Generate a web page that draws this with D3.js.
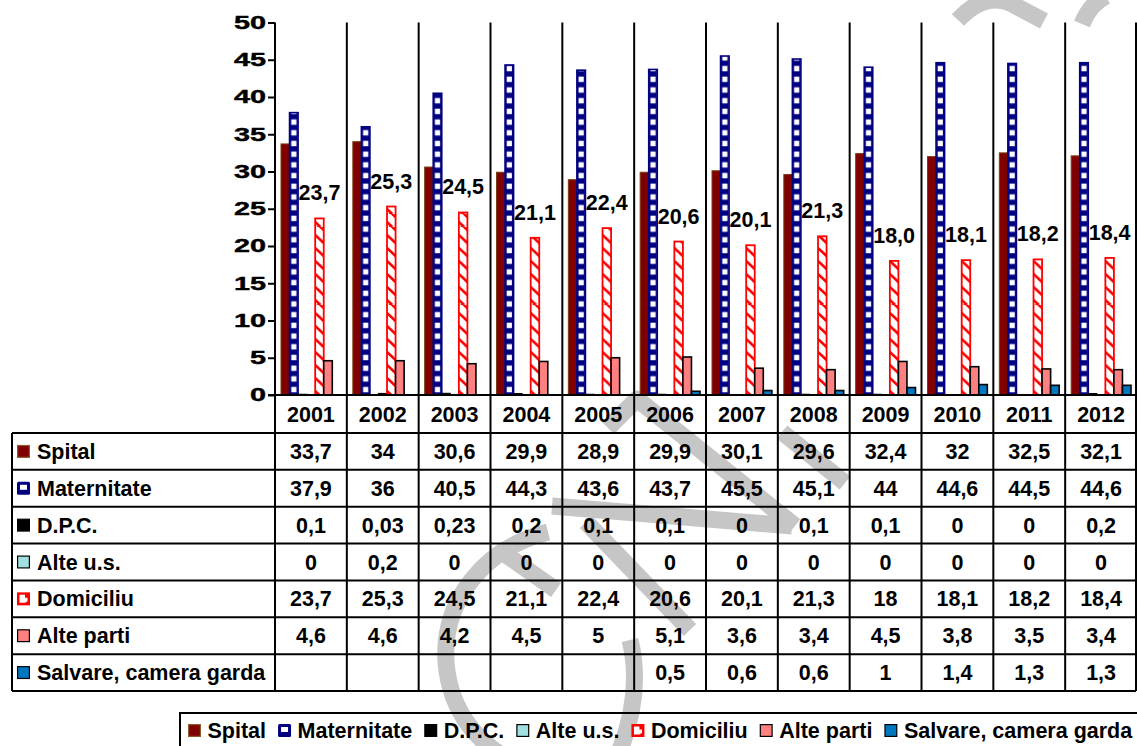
<!DOCTYPE html>
<html>
<head>
<meta charset="utf-8">
<script src="https://cdn.jsdelivr.net/npm/d3@7"></script>
<style>
  body { margin: 0; background: #fff; }
  svg { display: block; }
  text { font-family: Arial, "Liberation Sans", sans-serif; font-weight: bold; fill: #000; }
</style>
</head>
<body>
<svg id="chart" width="1137" height="746"></svg>
<script>
// ---- data ----
const years = ["2001","2002","2003","2004","2005","2006","2007","2008","2009","2010","2011","2012"];
const seriesNames = ["Spital","Maternitate","D.P.C.","Alte u.s.","Domiciliu","Alte parti","Salvare, camera garda"];
const spital      = [33.7, 34, 30.6, 29.9, 28.9, 29.9, 30.1, 29.6, 32.4, 32, 32.5, 32.1];
const maternitate = [37.9, 36, 40.5, 44.3, 43.6, 43.7, 45.5, 45.1, 44, 44.6, 44.5, 44.6];
const dpc         = [0.1, 0.03, 0.23, 0.2, 0.1, 0.1, 0, 0.1, 0.1, 0, 0, 0.2];
const alteUs      = [0, 0.2, 0, 0, 0, 0, 0, 0, 0, 0, 0, 0];
const domiciliu   = [23.7, 25.3, 24.5, 21.1, 22.4, 20.6, 20.1, 21.3, 18, 18.1, 18.2, 18.4];
const alteParti   = [4.6, 4.6, 4.2, 4.5, 5, 5.1, 3.6, 3.4, 4.5, 3.8, 3.5, 3.4];
const salvare     = [null, null, null, null, null, 0.5, 0.6, 0.6, 1, 1.4, 1.3, 1.3];
const yTicks      = [0, 5, 10, 15, 20, 25, 30, 35, 40, 45, 50];

const seriesValues = [spital, maternitate, dpc, alteUs, domiciliu, alteParti, salvare];

// ---- layout ----
const svg = d3.select("#chart");
const plot = { left: 275, right: 1137, top: 22.5, bottom: 395 };
const table = { left: 12, top: 433, bottom: 691, right: 1136 };
const rowH = (table.bottom - table.top) / seriesNames.length;
const FS = 21.5;

const x0 = d3.scaleBand().domain(years).range([plot.left, plot.right]);
const x1 = d3.scaleBand().domain(seriesNames).range([6, x0.bandwidth() - 6]);
const y = d3.scaleLinear().domain([0, 50]).range([plot.bottom, plot.top]);
const bw = x1.bandwidth();

const commaFmt = v => String(v).replace(".", ",");
const labelFmt = v => d3.format(".1f")(v).replace(".", ",");

// ---- fills ----
const defs = svg.append("defs");
const patMat = defs.append("pattern")
  .attr("id", "patMat").attr("patternUnits", "userSpaceOnUse")
  .attr("x", x0(years[0]) + x1("Maternitate")).attr("y", plot.bottom)
  .attr("width", x0.step()).attr("height", 10.7);
patMat.append("rect").attr("width", bw).attr("height", 10.7).attr("fill", "#000080");
patMat.append("rect").attr("x", (bw - 5.2) / 2).attr("y", 2.6).attr("width", 5.2).attr("height", 5.4).attr("fill", "#fff");

const patDom = defs.append("pattern")
  .attr("id", "patDom").attr("patternUnits", "userSpaceOnUse")
  .attr("x", x0(years[0]) + x1("Domiciliu")).attr("y", plot.bottom)
  .attr("width", x0.step()).attr("height", 13);
patDom.append("rect").attr("width", bw).attr("height", 13).attr("fill", "#fff");
patDom.append("path")
  .attr("d", `M-1,-5 L${bw + 1},5 M-1,8 L${bw + 1},18`)
  .attr("stroke", "#ff0000").attr("stroke-width", 2.6).attr("fill", "none");

const styles = {
  "Spital":                { fill: "#800000", stroke: "#7a3f10", sw: 1 },
  "Maternitate":           { fill: "url(#patMat)", stroke: "#000080", sw: 1.6 },
  "D.P.C.":                { fill: "#000000", stroke: "#000000", sw: 1 },
  "Alte u.s.":             { fill: "#a0e0e0", stroke: "#000000", sw: 1.2 },
  "Domiciliu":             { fill: "url(#patDom)", stroke: "#ff0000", sw: 1.8 },
  "Alte parti":            { fill: "#ff8080", stroke: "#000000", sw: 1.6 },
  "Salvare, camera garda": { fill: "#0077c0", stroke: "#000000", sw: 1.6 }
};

// ---- background mark ----
const wm = svg.append("g").attr("fill", "none").attr("stroke", "#c6c6c6")
  .attr("stroke-width", 17).attr("stroke-linejoin", "round");
wm.append("path").attr("d", "M608,428 L637,399 L795,526");
wm.append("path").attr("d", "M552,506 L792,526");
wm.append("path").attr("d", "M586,522 L690,630");
wm.append("path").attr("d", "M782,432 L845,483");
wm.append("path").attr("d", "M548,532 C485,548 442,600 446,662 C450,715 482,748 520,765");
wm.append("path").attr("d", "M502,552 L556,590");
wm.append("path").attr("d", "M630,640 C640,680 633,722 614,765");
wm.append("path").attr("d", "M958,20 Q984,-8 1010,3 L1044,21");
wm.append("path").attr("d", "M1082,24 Q1090,4 1106,-4");

// ---- bars ----
const barG = svg.append("g");
seriesNames.forEach((name, si) => {
  const st = styles[name];
  const vals = seriesValues[si];
  barG.append("g").selectAll("rect")
    .data(years.map((yr, i) => ({ yr, v: vals[i] })).filter(d => d.v != null && d.v > 0))
    .join("rect")
    .attr("x", d => x0(d.yr) + x1(name))
    .attr("y", d => y(d.v))
    .attr("width", bw)
    .attr("height", d => y(0) - y(d.v))
    .attr("fill", st.fill)
    .attr("stroke", st.stroke)
    .attr("stroke-width", st.sw);
});

// value labels over the Domiciliu bars
svg.append("g").selectAll("text")
  .data(years.map((yr, i) => ({ yr, v: domiciliu[i] })))
  .join("text")
  .attr("x", d => x0(d.yr) + x1("Domiciliu") + bw / 2)
  .attr("y", d => y(d.v) - 18)
  .attr("text-anchor", "middle")
  .attr("font-size", FS)
  .text(d => labelFmt(d.v));

// ---- grid / table lines ----
const lines = svg.append("g").attr("stroke", "#000").attr("stroke-width", 2);
// column separators running through the plot and the table
years.forEach(yr => {
  lines.append("line").attr("x1", x0(yr)).attr("x2", x0(yr))
    .attr("y1", plot.top).attr("y2", table.bottom);
});
lines.append("line").attr("x1", table.right).attr("x2", table.right)
  .attr("y1", plot.top).attr("y2", table.bottom);
// baseline / header top
lines.append("line").attr("x1", plot.left - 7).attr("x2", table.right)
  .attr("y1", y(0)).attr("y2", y(0));
// table rows
d3.range(seriesNames.length + 1).forEach(k => {
  const yy = table.top + k * rowH;
  lines.append("line").attr("x1", table.left).attr("x2", table.right)
    .attr("y1", yy).attr("y2", yy);
});
lines.append("line").attr("x1", table.left).attr("x2", table.left)
  .attr("y1", table.top).attr("y2", table.bottom);

// ---- y axis ----
const axis = svg.append("g")
  .attr("transform", `translate(${plot.left},0)`)
  .call(d3.axisLeft(y).tickValues(yTicks).tickSize(7).tickPadding(2));
axis.select(".domain").remove();
axis.selectAll(".tick line").attr("stroke", "#000").attr("stroke-width", 2);
axis.selectAll(".tick text")
  .attr("font-size", 18)
  .attr("font-family", "Arial, 'Liberation Sans', sans-serif")
  .attr("font-weight", "bold")
  .attr("fill", "#000")
  .attr("stroke", "#000").attr("stroke-width", 0.4)
  .attr("x", -9 / 1.6)
  .attr("transform", "scale(1.6,1)");

// ---- swatches ----
function swatch(g, name, x, yy, s) {
  const st = styles[name];
  if (name === "Maternitate") {
    g.append("rect").attr("x", x).attr("y", yy).attr("width", s).attr("height", s)
      .attr("fill", "#000080").attr("rx", 1.5);
    g.append("rect").attr("x", x + 3).attr("y", yy + 3).attr("width", s - 6).attr("height", s - 8)
      .attr("fill", "#fff");
  } else if (name === "Domiciliu") {
    g.append("rect").attr("x", x).attr("y", yy).attr("width", s).attr("height", s).attr("fill", "#ff0000");
    g.append("path")
      .attr("d", `M${x + 2.5},${yy + 2.5} L${x + s - 5},${yy + 2.5} L${x + s - 5},${yy + 5.5} L${x + s - 2.5},${yy + 5.5} L${x + s - 2.5},${yy + s - 4} L${x + s - 5},${yy + s - 2.5} L${x + 2.5},${yy + s - 2.5} Z`)
      .attr("fill", "#fff");
  } else {
    g.append("rect").attr("x", x + 0.6).attr("y", yy + 0.6).attr("width", s - 1.2).attr("height", s - 1.2)
      .attr("fill", st.fill).attr("stroke", name === "Spital" ? "#8a5a2a" : "#000").attr("stroke-width", 1.2);
  }
}

// ---- table text ----
const tg = svg.append("g");
years.forEach(yr => {
  tg.append("text").attr("x", x0(yr) + x0.step() / 2).attr("y", (plot.bottom + table.top) / 2 + 7.5)
    .attr("text-anchor", "middle").attr("font-size", FS).text(yr);
});
seriesNames.forEach((name, si) => {
  const cy = table.top + (si + 0.5) * rowH;
  swatch(tg, name, 17, cy - 6.5, 13);
  tg.append("text").attr("x", 37).attr("y", cy + 7.5).attr("font-size", FS).text(name);
  seriesValues[si].forEach((v, i) => {
    if (v == null) return;
    tg.append("text").attr("x", x0(years[i]) + x0.step() / 2).attr("y", cy + 7.5)
      .attr("text-anchor", "middle").attr("font-size", FS).text(commaFmt(v));
  });
});

// ---- legend ----
const lg = svg.append("g");
lg.append("rect").attr("x", 180).attr("y", 713).attr("width", 1000).attr("height", 60)
  .attr("fill", "none").attr("stroke", "#000").attr("stroke-width", 2);
let lx = 188;
seriesNames.forEach(name => {
  swatch(lg, name, lx, 724, 13);
  const t = lg.append("text").attr("x", lx + 19.5).attr("y", 738).attr("font-size", FS).text(name);
  lx = lx + 19.5 + t.node().getComputedTextLength() + 12;
});
</script>
</body>
</html>
